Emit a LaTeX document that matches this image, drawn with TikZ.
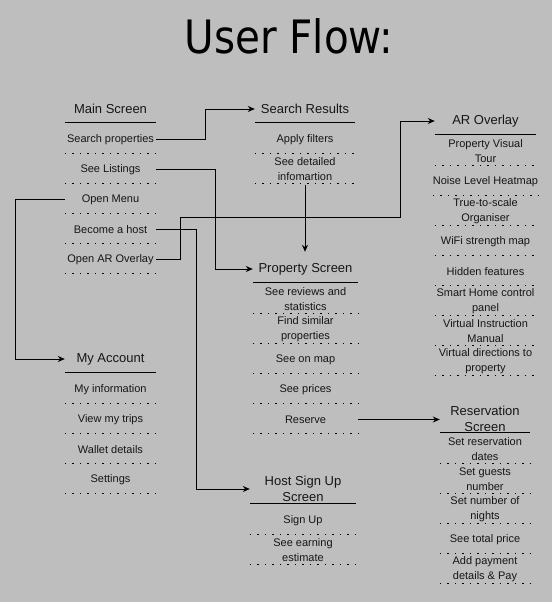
\documentclass[tikz,border=0pt]{standalone}
\usepackage{graphicx}
\usepackage{fontspec}
\setmainfont{Liberation Sans}
\newfontfamily\titlefont{DejaVu Sans}
\usetikzlibrary{arrows.meta}
\definecolor{bg}{RGB}{190,190,190}
\definecolor{txt}{RGB}{22,22,22}
\begin{document}
\begin{tikzpicture}[x=1pt,y=-1pt,
  item/.style={minimum height=30pt, inner sep=0pt, align=center, text=txt,
    font=\fontsize{11}{15}\selectfont},
  head/.style={minimum height=22pt, inner sep=0pt, align=center, text=txt,
    font=\fontsize{13}{16}\selectfont},
  sep/.style={line width=1.4pt, dash pattern=on 1.4pt off 6.1pt},
  rule/.style={line width=1.3pt},
  link/.style={line width=1pt, -{Stealth[length=7pt,width=6pt]}}
]
\fill[bg] (0,0) rectangle (552,602);
\useasboundingbox (0,0) rectangle (552,602);

\node[anchor=base, font=\titlefont\fontsize{46}{50}\selectfont] (title) at (289,53) {\scalebox{0.88}[1]{User Flow:}};

% Main Screen
\node[head, minimum width=91pt] (ms) at (110.5,109) {Main Screen};
\foreach \t [count=\i] in {Search properties, See Listings, Open Menu, Become a host, Open AR Overlay}{
  \node[item, minimum width=91pt] (ms\i) at (110.5,109.5+30*\i) {\t};
  \draw[sep] ([yshift=1.5pt]ms\i.south west) -- ([yshift=1.5pt]ms\i.south east);
}
\draw[rule] ([yshift=1.5pt]ms1.north west) -- ([yshift=1.5pt]ms1.north east);

% My Account
\node[head, minimum width=91pt] (ma) at (110.5,359) {My Account};
\foreach \t [count=\i] in {My information, View my trips, Wallet details, Settings}{
  \node[item, minimum width=91pt] (ma\i) at (110.5,359.5+30*\i) {\t};
  \draw[sep] ([yshift=1.5pt]ma\i.south west) -- ([yshift=1.5pt]ma\i.south east);
}
\draw[rule] ([yshift=1.5pt]ma1.north west) -- ([yshift=1.5pt]ma1.north east);

% Search Results
\node[head, minimum width=100pt] (sr) at (305,109) {Search Results};
\foreach \t [count=\i] in {Apply filters, {See detailed\\infomartion}}{
  \node[item, minimum width=100pt] (sr\i) at (305,109.5+30*\i) {\t};
  \draw[sep] ([yshift=1.5pt]sr\i.south west) -- ([yshift=1.5pt]sr\i.south east);
}
\draw[rule] ([yshift=1.5pt]sr1.north west) -- ([yshift=1.5pt]sr1.north east);

% Property Screen
\node[head, minimum width=105pt] (ps) at (305.5,269) {Property Screen};
\foreach \t [count=\i] in {{See reviews and\\statistics}, {Find similar\\properties}, See on map, See prices, Reserve}{
  \node[item, minimum width=105pt] (ps\i) at (305.5,269.5+30*\i) {\t};
  \draw[sep] ([yshift=1.5pt]ps\i.south west) -- ([yshift=1.5pt]ps\i.south east);
}
\draw[rule] ([yshift=1.5pt]ps1.north west) -- ([yshift=1.5pt]ps1.north east);

% Host Sign Up Screen
\node[head, minimum width=106pt] (hs) at (303,489) {Host Sign Up\\Screen};
\foreach \t [count=\i] in {Sign Up, {See earning\\estimate}}{
  \node[item, minimum width=106pt] (hs\i) at (303,490.5+30*\i) {\t};
  \draw[sep] ([yshift=1.5pt]hs\i.south west) -- ([yshift=1.5pt]hs\i.south east);
}
\draw[rule] ([yshift=1.5pt]hs1.north west) -- ([yshift=1.5pt]hs1.north east);

% AR Overlay
\node[head, minimum width=101pt] (ar) at (485.5,121) {AR Overlay};
\foreach \t [count=\i] in {{Property Visual\\Tour}, Noise Level Heatmap, {True-to-scale\\Organiser}, WiFi strength map, Hidden features, {Smart Home control\\panel}, {Virtual Instruction\\Manual}, {Virtual directions to\\property}}{
  \node[item, minimum width=101pt] (ar\i) at (485.5,121.5+30*\i) {\t};
  \draw[sep] ([yshift=1.5pt]ar\i.south west) -- ([yshift=1.5pt]ar\i.south east);
}
\draw[rule] ([yshift=1.5pt]ar1.north west) -- ([yshift=1.5pt]ar1.north east);

% Reservation Screen
\node[head, minimum width=90pt] (rs) at (485,419) {Reservation\\Screen};
\foreach \t [count=\i] in {{Set reservation\\dates}, {Set guests\\number}, {Set number of\\nights}, See total price, {Add payment\\details \& Pay}}{
  \node[item, minimum width=90pt] (rs\i) at (485,419.5+30*\i) {\t};
  \draw[sep] ([yshift=1.5pt]rs\i.south west) -- ([yshift=1.5pt]rs\i.south east);
}
\draw[rule] ([yshift=1.5pt]rs1.north west) -- ([yshift=1.5pt]rs1.north east);

% Connectors
\draw[link] (ms1.east) -- ++(49.5,0) |- (sr.west);
\draw[link] (ms2.east) -- ++(59.5,0) |- (ps.west);
\draw[link] (ms3.west) -- ++(-49,0) |- (ma.west);
\draw[link] (ms4.east) -- ++(40,0) |- (hs.west);
\draw[link] (ms5.east) -- ++(24,0) -- ++(0,-42) -- ++(220,0) |- (ar.west);
\coordinate (pstop) at ([yshift=6pt]ps.north);
\draw[link] (sr2.south) -- (sr2.south |- pstop);
\draw[link] (ps5.east) -- (rs.west |- ps5.east);
\end{tikzpicture}
\end{document}
